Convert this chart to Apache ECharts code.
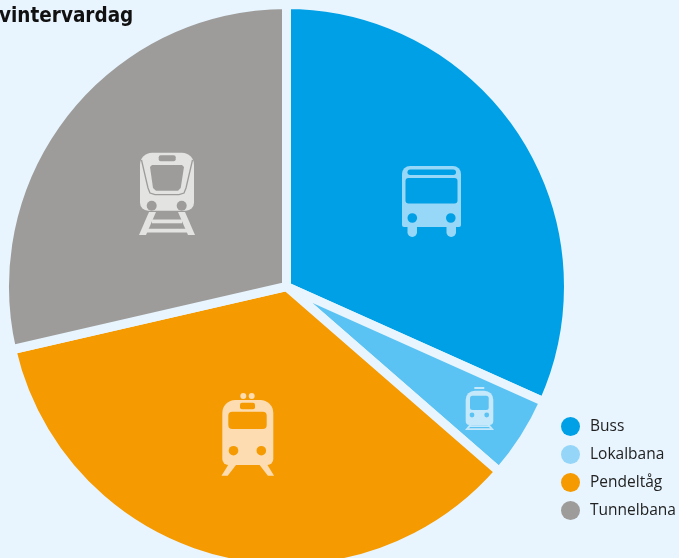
<!DOCTYPE html>
<html>
<head>
<meta charset="utf-8">
<title>vintervardag</title>
<style>
html, body { margin: 0; padding: 0; background: #e8f5fe; }
#chartData { width: 679px; height: 558px; }
</style>
<script src="https://cdn.jsdelivr.net/npm/echarts@6/dist/echarts.min.js"></script>
</head>
<body>
<div id="chartData"></div>
<script>
var categories = ['Buss', 'Lokalbana', 'Pendeltåg', 'Tunnelbana'];
var values = [31.7, 4.7, 35.0, 28.6];
var sliceColors = ['#00a0e6', '#5bc3f3', '#f59a00', '#9d9c9a'];
var legendColors = ['#00a0e6', '#95d5f8', '#f59a00', '#9d9c9a'];
var bgColor = '#e8f5fe';

var myChart = echarts.init(document.getElementById('chartData'));

// helpers for the pictograms, drawn on top of the slices
function rect(x, y, w, h, r, fill) {
    return { type: 'rect', z: 100, silent: true, shape: { x: x, y: y, width: w, height: h, r: r }, style: { fill: fill } };
}
function dot(cx, cy, r, fill) {
    return { type: 'circle', z: 100, silent: true, shape: { cx: cx, cy: cy, r: r }, style: { fill: fill } };
}
function poly(points, fill) {
    return { type: 'polygon', z: 100, silent: true, shape: { points: points }, style: { fill: fill } };
}
function line(points, stroke, width) {
    return { type: 'polyline', z: 100, silent: true, shape: { points: points }, style: { fill: 'none', stroke: stroke, lineWidth: width } };
}

function busIcon() {
    var fg = '#97d7f7', bg = sliceColors[0];
    return [
        rect(407.5, 215, 9.5, 22, [0, 0, 4.7, 4.7], fg),
        rect(446.5, 215, 9.5, 22, [0, 0, 4.7, 4.7], fg),
        rect(402, 166, 59, 61, [8, 8, 2, 2], fg),
        rect(407.5, 169.5, 48.5, 5.5, 2.7, bg),
        rect(405.5, 178, 52, 25.5, 3, bg),
        dot(412.3, 218, 4.8, bg),
        dot(450.8, 218, 4.8, bg)
    ];
}

function tunnelbanaIcon() {
    var fg = '#e3e3e2', bg = sliceColors[3];
    return [
        poly([[149, 212], [156, 212], [146, 235], [139, 235]], fg),
        poly([[178, 212], [185, 212], [195, 235], [188, 235]], fg),
        rect(152, 219.5, 30, 3.8, 0, fg),
        rect(147, 228.7, 40, 3.8, 0, fg),
        rect(140, 152.7, 54, 58, [12, 12, 8, 8], fg),
        rect(158.7, 155.3, 17, 6, 2, bg),
        poly([[152, 165], [182, 165], [184, 167], [180.7, 188], [178, 190.7], [156, 190.7], [153, 188], [150, 167]], bg),
        line([[141.5, 160], [148, 188], [150, 193], [155, 194.7], [179, 194.7], [184, 193], [186, 188], [192.5, 160]], bg, 1.3),
        dot(151.7, 205.7, 5, bg),
        dot(181.7, 205.7, 5, bg)
    ];
}

function pendeltagIcon() {
    var fg = '#fcdcb0', bg = sliceColors[2];
    return [
        dot(243.3, 396, 3, fg),
        dot(251.7, 396, 3, fg),
        poly([[230, 462], [236, 465], [227.7, 475.7], [221.5, 475.7]], fg),
        poly([[265.6, 462], [259.6, 465], [267.9, 475.7], [274.1, 475.7]], fg),
        rect(222.3, 400, 51, 65, [13, 13, 6, 6], fg),
        rect(240, 402.7, 15, 6.5, 2, bg),
        rect(228.3, 411.7, 38.4, 17.3, 4, bg),
        dot(233.5, 450.7, 4.8, bg),
        dot(261.3, 450.7, 4.8, bg)
    ];
}

function lokalbanaIcon() {
    var fg = '#c5e8fa', bg = sliceColors[1];
    return [
        rect(474.3, 387, 10, 2, 0, fg),
        poly([[470, 424], [472.5, 424], [467.5, 430], [465, 430]], fg),
        poly([[486.5, 424], [489, 424], [494, 430], [491.5, 430]], fg),
        rect(469, 425.2, 21, 1.8, 0, fg),
        rect(467.5, 428.2, 24, 1.8, 0, fg),
        rect(465.7, 390.7, 27.6, 34.3, [9, 9, 4, 4], fg),
        rect(470, 395.7, 18.7, 14.3, 2.5, bg),
        dot(472, 415, 2.4, bg),
        dot(486.7, 415, 2.4, bg)
    ];
}

var pieData = [];
var legendData = [];
for (var i = 0; i < categories.length; i++) {
    pieData.push({ name: categories[i], value: values[i], itemStyle: { color: sliceColors[i] } });
    legendData.push({ name: categories[i], itemStyle: { color: legendColors[i], borderWidth: 0 } });
}

var option = {
    backgroundColor: bgColor,
    animation: false,
    title: {
        text: 'vintervardag',
        left: -1,
        top: 6,
        padding: 0,
        textStyle: {
            fontFamily: '"DejaVu Sans Condensed", "Liberation Sans", sans-serif',
            fontWeight: 'bold',
            fontSize: 20.5,
            color: '#111'
        }
    },
    legend: {
        orient: 'vertical',
        left: 561,
        top: 417,
        padding: 0,
        icon: 'circle',
        itemWidth: 19,
        itemHeight: 19,
        itemGap: 9,
        selectedMode: false,
        textStyle: {
            fontFamily: '"Open Sans", sans-serif',
            fontSize: 15.5,
            color: '#222',
            padding: [0, 0, 0, 5]
        },
        data: legendData
    },
    series: [{
        type: 'pie',
        center: [286.5, 286.5],
        radius: [0, 282],
        startAngle: 90,
        clockwise: true,
        silent: true,
        label: { show: false },
        labelLine: { show: false },
        itemStyle: { borderColor: bgColor, borderWidth: 9 },
        data: pieData
    }],
    graphic: { elements: [].concat(busIcon(), tunnelbanaIcon(), pendeltagIcon(), lokalbanaIcon()) }
};

myChart.setOption(option);
</script>
</body>
</html>
